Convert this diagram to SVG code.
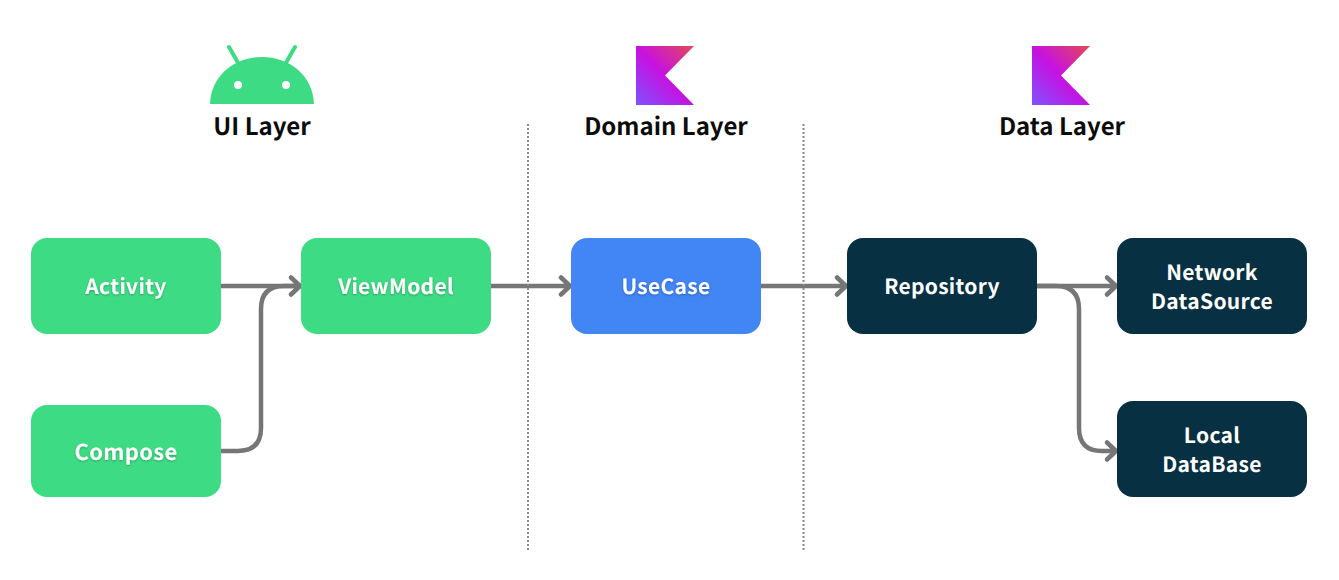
<svg xmlns="http://www.w3.org/2000/svg" width="1339" height="580" viewBox="0 0 1339 580">
<style>
text{font-family:"Noto Sans CJK KR","Noto Sans",sans-serif;text-anchor:middle;text-rendering:geometricPrecision}
.h{font-size:24px;font-weight:700;fill:#0b0b0b}
.t{font-size:21px;font-weight:700;fill:#fff;letter-spacing:.3px}
.l{font-size:22px}
.sh{filter:url(#ts)}
.g{fill:#3ddc84}.b{fill:#4285f4}.d{fill:#073042}
.c{fill:none;stroke:#767676;stroke-width:4.500;stroke-linecap:round;stroke-linejoin:round}
.s{fill:none;stroke:#8a8a8a;stroke-width:2;stroke-dasharray:2 2}
</style>
<defs>
<filter id="ts" x="-20%" y="-40%" width="140%" height="180%"><feDropShadow dx="0" dy="1" stdDeviation="1.200" flood-color="#000" flood-opacity=".28"/></filter>
<linearGradient id="k" x1="636" y1="105" x2="694" y2="46" gradientUnits="userSpaceOnUse">
<stop offset="0" stop-color="#7f52ff"/><stop offset=".5" stop-color="#c711e1"/><stop offset="1" stop-color="#e44857"/>
</linearGradient>
<path id="kotlin" d="M636 46H694L665 75.500L694 105H636Z" fill="url(#k)"/>
</defs>
<g id="connectors" class="c">
<path d="M221 286H299M291 277.500L300 286L291 294.500"/>
<path d="M221 451H238Q261 451 261 428V309Q261 286 284 286H299"/>
<path d="M491 286H569M561 277.500L570 286L561 294.500"/>
<path d="M761 286H845M837 277.500L846 286L837 294.500"/>
<path d="M1037 286H1115M1107 277.500L1116 286L1107 294.500"/>
<path d="M1037 286H1056Q1079 286 1079 309V428Q1079 451 1102 451H1115M1107 442.500L1116 451L1107 459.500"/>
</g>
<g id="separators">
<path class="s" d="M528 124V550"/>
<path class="s" d="M803.500 124V550"/>
</g>
<g id="ui-layer">
<path class="g" d="M210 104C211 76 234 57 262 57C290 57 313 76 314 104Z"/>
<path d="M229 47L241 68M295 47L283 68" stroke="#3ddc84" stroke-width="4" stroke-linecap="round" fill="none"/>
<circle cx="238" cy="85" r="4" fill="#fff"/><circle cx="286" cy="85" r="4" fill="#fff"/>
<text class="h" x="262" y="135">UI Layer</text>
</g>
<g id="domain-layer">
<use href="#kotlin"/>
<text class="h" x="666" y="135">Domain Layer</text>
</g>
<g id="data-layer">
<use href="#kotlin" x="396"/>
<text class="h" x="1062" y="135">Data Layer</text>
</g>
<g id="activity"><rect class="g" x="31" y="238" width="190" height="96" rx="16"/><text class="t sh" x="126" y="294">Activity</text></g>
<g id="compose"><rect class="g" x="31" y="405" width="190" height="92" rx="16"/><text class="t l sh" x="126" y="460">Compose</text></g>
<g id="viewmodel"><rect class="g" x="301" y="238" width="190" height="96" rx="16"/><text class="t sh" x="396" y="294">ViewModel</text></g>
<g id="usecase"><rect class="b" x="571" y="238" width="190" height="96" rx="16"/><text class="t sh" x="666" y="294">UseCase</text></g>
<g id="repository"><rect class="d" x="847" y="238" width="190" height="96" rx="16"/><text class="t" x="942" y="294">Repository</text></g>
<g id="network"><rect class="d" x="1117" y="238" width="190" height="96" rx="16"/><text class="t" x="1212" y="280">Network</text><text class="t" x="1212" y="309">DataSource</text></g>
<g id="local"><rect class="d" x="1117" y="401" width="190" height="96" rx="16"/><text class="t" x="1212" y="443">Local</text><text class="t" x="1212" y="472">DataBase</text></g>
</svg>
